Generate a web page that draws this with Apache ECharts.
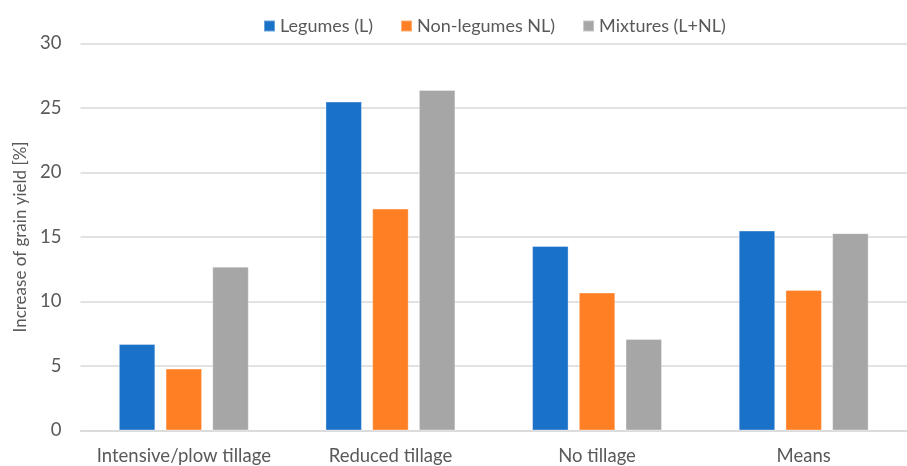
<!DOCTYPE html>
<html><head><meta charset="utf-8">
<script src="https://cdn.jsdelivr.net/npm/echarts@6/dist/echarts.min.js"></script>
<style>html,body{margin:0;padding:0;background:#fff;overflow:hidden}#c{width:907px;height:466px}</style>
</head><body><div id="c"></div>
<script>
const categories = ['Intensive/plow tillage', 'Reduced tillage', 'No tillage', 'Means'];
const legumes = [6.7, 25.5, 14.3, 15.5];
const nonLegumes = [4.8, 17.2, 10.7, 10.9];
const mixtures = [12.7, 26.4, 7.1, 15.3];
const seriesNames = ['Legumes (L)', 'Non-legumes NL)', 'Mixtures (L+NL)'];
const colors = ['#1971C8', '#FE7F24', '#A6A6A6'];
const yTicks = {min: 0, max: 30, interval: 5};
const yName = 'Increase of grain yield [%]';

const font = 'Lato, "Open Sans", sans-serif';
const chart = echarts.init(document.getElementById('c'));
const mk = (name, data, i) => ({
  name, type: 'bar', data, barWidth: 36.5, barGap: '28%',
  itemStyle: {color: colors[i], borderColor: 'rgba(255,255,255,0.35)', borderWidth: 1}
});
chart.setOption({
  animation: false,
  textStyle: {fontFamily: font},
  legend: {
    top: 12, left: 258, itemWidth: 11, itemHeight: 11, itemGap: 27,
    icon: 'rect',
    textStyle: {color: '#595959', fontSize: 18, fontFamily: font}
  },
  grid: {left: 80.5, right: -9.5, top: 43.5, bottom: 35.5, containLabel: false},
  xAxis: {
    type: 'category', data: categories,
    axisLine: {lineStyle: {color: '#D9D9D9', width: 1.5}},
    axisTick: {show: false},
    axisLabel: {color: '#595959', fontSize: 18.5, margin: 16, fontFamily: font, interval: 0, hideOverlap: false}
  },
  yAxis: {
    type: 'value', min: yTicks.min, max: yTicks.max, interval: yTicks.interval,
    name: yName, nameLocation: 'middle', nameGap: 49,
    nameTextStyle: {color: '#595959', fontSize: 17, fontFamily: font},
    axisLine: {show: false}, axisTick: {show: false},
    axisLabel: {color: '#595959', fontSize: 18.5, margin: 19, fontFamily: font},
    splitLine: {lineStyle: {color: '#D9D9D9', width: 1.5}}
  },
  series: [mk(seriesNames[0], legumes, 0), mk(seriesNames[1], nonLegumes, 1), mk(seriesNames[2], mixtures, 2)]
});
</script></body></html>
